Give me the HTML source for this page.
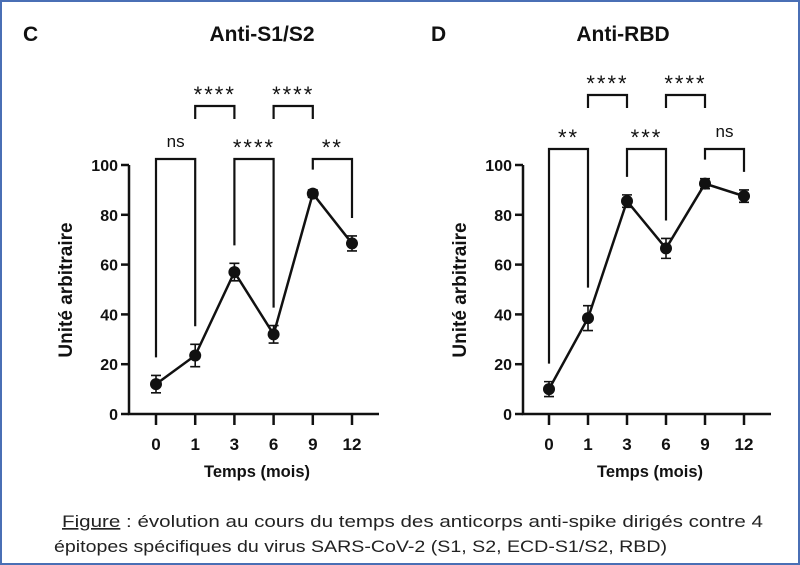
<!DOCTYPE html>
<html><head><meta charset="utf-8"><style>
html,body{margin:0;padding:0;background:#fff;}
svg{display:block;font-family:"Liberation Sans",sans-serif;}
</style></head><body>
<svg id="fig" width="800" height="565" viewBox="0 0 800 565">
<rect x="1" y="1" width="798" height="563" fill="#fff" stroke="#4a6fb5" stroke-width="2"/>
<text x="562" y="0" font-size="0"></text>
<g font-family="Liberation Sans, sans-serif" font-size="16.5" fill="#222">
<text x="62" y="527" textLength="701" lengthAdjust="spacingAndGlyphs"><tspan text-decoration="underline">Figure</tspan> : évolution au cours du temps des anticorps anti-spike dirigés contre 4</text>
<text x="54" y="552" textLength="613" lengthAdjust="spacingAndGlyphs">épitopes spécifiques du virus SARS-CoV-2 (S1, S2, ECD-S1/S2, RBD)</text>
</g>
</svg>
<script>
const categories = ["0","1","3","6","9","12"];
const s1s2Values = [12, 23.5, 57, 32, 88.5, 68.5];
const s1s2Errors = [3.5, 4.5, 3.5, 3.5, 1.5, 3];
const rbdValues = [10, 38.5, 85.5, 66.5, 92.5, 87.5];
const rbdErrors = [3, 5, 2.5, 4, 2, 2.5];
const yTicks = [0, 20, 40, 60, 80, 100];
const s1s2Sig = ["ns","****","****","****","**"];
const rbdSig = ["**","****","***","****","ns"];

const NS = "http://www.w3.org/2000/svg";
const svg = document.getElementById("fig");
function mk(tag, attrs, parent){
  const e = document.createElementNS(NS, tag);
  for (const k in attrs) e.setAttribute(k, attrs[k]);
  (parent||svg).appendChild(e);
  return e;
}
function panel(cfg){
  const g = mk("g", {});
  
  
  const y0 = 414, y100 = 165;
  const yS = v => y0 + (y100 - y0) * v / 100;
  const xS = i => cfg.x0 + i * cfg.dx;
  const bold = {"font-weight":"bold","fill":"#111"};
  let t = mk("text", Object.assign({x: cfg.letterX, y: 41, "font-size": 21}, bold), g);
  t.textContent = cfg.letter;
  
  
  t = mk("text", Object.assign({x: cfg.titleX, y: 41, "font-size": 21, "text-anchor":"middle"}, bold), g);
  t.textContent = cfg.title;
  
  
  // axes
  let a = mk("path", {d:`M${cfg.ax} ${y100} V${y0} H${cfg.axEnd}`, stroke:"#111", "stroke-width":2.5, fill:"none"}, g);
  
  
  yTicks.forEach(v => {
    const l = mk("line", {x1: cfg.ax-8, x2: cfg.ax, y1: yS(v), y2: yS(v), stroke:"#111", "stroke-width":2.5}, g);
    
    
    const tx = mk("text", Object.assign({x: cfg.ax-11, y: yS(v)+6, "font-size": 16, "text-anchor":"end"}, bold), g);
    tx.textContent = v;
    
    
  });
  categories.forEach((c, i) => {
    const l = mk("line", {x1: xS(i), x2: xS(i), y1: y0, y2: y0+11, stroke:"#111", "stroke-width":2.5}, g);
    
    
    const tx = mk("text", Object.assign({x: xS(i), y: 450, "font-size": 17, "text-anchor":"middle"}, bold), g);
    tx.textContent = c;
    
    
  });
  t = mk("text", Object.assign({x: (cfg.ax+cfg.axEnd)/2+3, y: 477, "font-size": 16.5, "text-anchor":"middle"}, bold), g);
  t.textContent = "Temps (mois)";
  
  
  t = mk("text", Object.assign({x: 0, y: 0, "font-size": 19, "text-anchor":"middle", transform:`translate(${cfg.ax-57},290) rotate(-90)`}, bold), g);
  t.textContent = "Unité arbitraire";
  
  
  // line
  const pts = cfg.values.map((v,i)=>`${xS(i)},${yS(v)}`).join(" ");
  const pl = mk("polyline", {points: pts, fill:"none", stroke:"#111", "stroke-width":2.5}, g);
  
  
  cfg.values.forEach((v,i) => {
    const e = cfg.errors[i], x = xS(i);
    const eb = mk("path", {d:`M${x} ${yS(v+e)} V${yS(v-e)} M${x-5} ${yS(v+e)} H${x+5} M${x-5} ${yS(v-e)} H${x+5}`, stroke:"#111", "stroke-width":1.6, fill:"none"}, g);
    
    
    const c = mk("circle", {cx: x, cy: yS(v), r: 6, fill:"#111"}, g);
    
    
  });
  // significance brackets between consecutive points
  cfg.sig.forEach((s, i) => {
    const high = i % 2 === 1;
    const top = high ? cfg.hiTop : cfg.loTop;
    let yl, yr;
    if (high) { yl = top + 13; yr = top + 13; }
    else {
      yl = Math.min(yS(cfg.values[i] + cfg.errors[i]) - 18, yS(cfg.values[i]) - 24);
      yr = Math.min(yS(cfg.values[i+1] + cfg.errors[i+1]) - 18, yS(cfg.values[i+1]) - 24);
    }
    const x1 = xS(i), x2 = xS(i+1);
    const br = mk("path", {d:`M${x1} ${yl} V${top} H${x2} V${yr}`, stroke:"#111", "stroke-width":2.2, fill:"none"}, g);
    
    
    const isNs = s === "ns";
    const tx = mk("text", {x: (x1+x2)/2, y: isNs ? top-12 : top-4, "font-size": isNs ? 17 : 22, "text-anchor":"middle", fill:"#111", "letter-spacing": isNs ? 0 : 2}, g);
    tx.textContent = s;
    
    
  });
}
panel({name:"panel-anti-s1s2", letter:"C", letterX:23, title:"Anti-S1/S2", titleX:262, ax:129, axEnd:379, x0:156, dx:39.2, values:s1s2Values, errors:s1s2Errors, sig:s1s2Sig, loTop:159, hiTop:106});
panel({name:"panel-anti-rbd", letter:"D", letterX:431, title:"Anti-RBD", titleX:623, ax:523, axEnd:771, x0:549, dx:39, values:rbdValues, errors:rbdErrors, sig:rbdSig, loTop:149, hiTop:95});
</script>
</body></html>
